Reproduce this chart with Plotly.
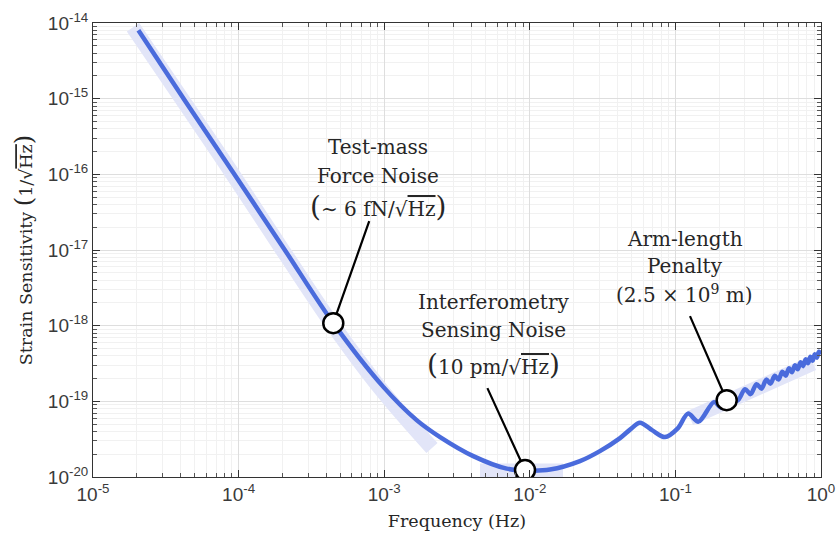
import math
import plotly.graph_objects as go

# ---- data ----
# main strain-sensitivity curve
curve_f = [2.05e-5, 4.352e-5, 9.45e-5, 2.05e-4, 4.47e-4, 9.86e-4, 1.67e-3, 2.42e-3,
           4.09e-3, 6.94e-3, 1.003e-2, 1.376e-2, 2.21e-2, 3.03e-2, 4.165e-2, 4.88e-2,
           5.71e-2, 6.91e-2, 8.48e-2, 0.1042, 0.1220, 0.1441, 0.1841, 0.2073, 0.2389,
           0.2670, 0.3006, 0.3280, 0.3606, 0.3904, 0.4210, 0.4497, 0.4816, 0.5106,
           0.5422, 0.5722, 0.6028, 0.6321, 0.6629, 0.6930, 0.7231, 0.7535, 0.7851,
           0.8141, 0.8456, 0.8756, 0.9066, 0.9371, 0.9674, 1.0]
curve_h = [8.01e-15, 8.96e-16, 9.73e-17, 1.04e-17, 1.079e-18, 1.553e-19, 5.65e-20, 3.37e-20,
           1.888e-20, 1.29e-20, 1.215e-20, 1.253e-20, 1.622e-20, 2.20e-20, 3.265e-20, 4.23e-20,
           5.23e-20, 4.16e-20, 3.37e-20, 4.43e-20, 6.88e-20, 5.39e-20, 9.76e-20, 8.26e-20, 1.172e-19,
           1.021e-19, 1.449e-19, 1.245e-19, 1.687e-19, 1.472e-19, 1.936e-19, 1.714e-19, 2.185e-19, 1.936e-19,
           2.468e-19, 2.185e-19, 2.746e-19, 2.43e-19, 3.007e-19, 2.661e-19, 3.296e-19, 2.917e-19, 3.61e-19,
           3.196e-19, 3.896e-19, 3.449e-19, 4.2e-19, 3.78e-19, 4.53e-19, 4.2e-19]

# shaded asymptote bands
force_band_f = [1.883e-5, 9.01e-5, 2.184e-4, 4.45e-4, 9.36e-4, 2.129e-3]
force_band_h = [8.77e-15, 1.034e-16, 7.79e-18, 1.015e-18, 1.494e-19, 2.41e-20]
sensing_band_f = [4.55e-3, 1.69e-2]
sensing_band_h = [1.2e-20, 1.2e-20]
arm_band_f = [0.126, 0.881]
arm_band_h = [6.0e-20, 3.2e-19]

# labelled points
marker_f = [4.47e-4, 9.27e-3, 0.225]
marker_h = [1.08e-18, 1.233e-20, 1.037e-19]
marker_labels = [
    ["Test-mass", "Force Noise",
     '<span style="font-size:28px">(</span>∼ 6 fN/√<span style="text-decoration:overline">Hz</span><span style="font-size:28px">)</span>'],
    ["Interferometry", "Sensing Noise",
     '<span style="font-size:28px">(</span>10 pm/√<span style="text-decoration:overline">Hz</span><span style="font-size:28px">)</span>'],
    ["Arm-length", "Penalty",
     '(2.5 × 10<sup>9</sup> m)'],
]

x_tickvals = [1e-5, 1e-4, 1e-3, 1e-2, 1e-1, 1e0]
x_ticktext = ["10<sup>-5</sup>", "10<sup>-4</sup>", "10<sup>-3</sup>", "10<sup>-2</sup>",
              "10<sup>-1</sup>", "10<sup>0</sup>"]
y_tickvals = [1e-20, 1e-19, 1e-18, 1e-17, 1e-16, 1e-15, 1e-14]
y_ticktext = ["10<sup>-20</sup>", "10<sup>-19</sup>", "10<sup>-18</sup>", "10<sup>-17</sup>",
              "10<sup>-16</sup>", "10<sup>-15</sup>", "10<sup>-14</sup>"]

# ---- styling ----
BAND = "#e2e5f8"
LINE = "#4a6bdc"
SERIF = "DejaVu Serif"
SANS = "Liberation Sans"
TXT = "#262626"

fig = go.Figure()
for bf, bh, shape in [(force_band_f, force_band_h, "spline"),
                      (sensing_band_f, sensing_band_h, "linear"),
                      (arm_band_f, arm_band_h, "linear")]:
    fig.add_trace(go.Scatter(x=bf, y=bh, mode="lines",
                             line=dict(color=BAND, width=15, shape=shape),
                             hoverinfo="skip", showlegend=False))

fig.add_trace(go.Scatter(x=curve_f, y=curve_h, mode="lines",
                         line=dict(color=LINE, width=4.5, shape="spline", smoothing=0.9),
                         showlegend=False))

fig.add_trace(go.Scatter(x=marker_f, y=marker_h, mode="markers",
                         marker=dict(size=20, color="white",
                                     line=dict(color="black", width=2.5)),
                         showlegend=False))

# leader lines (pixel offsets from the points) and text offsets
leaders = [(37, -105), (-39, -85), (-38, -87)]
text_dx = [45, -32, -42]
text_dy = [[176, 147, 117], [168, 140, 106], [161, 134, 106]]

annotations = []
for i in range(3):
    lx = math.log10(marker_f[i])
    ly = math.log10(marker_h[i])
    annotations.append(dict(x=lx, y=ly, xref="x", yref="y", text=" ",
                            showarrow=True, arrowhead=0, arrowwidth=2.2,
                            arrowcolor="black", ax=leaders[i][0], ay=leaders[i][1],
                            standoff=10, font=dict(size=2)))
    for j, t in enumerate(marker_labels[i]):
        annotations.append(dict(x=lx, y=ly, xref="x", yref="y", text=t,
                                showarrow=False, xshift=text_dx[i], yshift=text_dy[i][j],
                                xanchor="center", yanchor="middle",
                                font=dict(family=SERIF, size=20, color=TXT)))

axis_common = dict(
    type="log", showline=True, linecolor="#333333", linewidth=1, mirror="allticks",
    ticks="inside", ticklen=7, tickcolor="#333333", tickwidth=1, automargin=False,
    showgrid=True, gridcolor="#dedede", gridwidth=1, zeroline=False,
    tickfont=dict(family=SANS, size=19, color="#3a3a3a"),
    minor=dict(ticks="inside", ticklen=4, tickcolor="#555555", dtick="D1",
               showgrid=True, gridcolor="#f1f1f1", gridwidth=1),
)

fig.update_layout(
    width=836, height=533,
    margin=dict(l=93, r=15, t=23, b=56),
    paper_bgcolor="white", plot_bgcolor="white",
    xaxis=dict(range=[-5, 0], tickmode="array", tickvals=x_tickvals, ticktext=x_ticktext,
               title=dict(text="Frequency (Hz)", font=dict(family=SERIF, size=17.5, color=TXT),
                          standoff=10),
               **axis_common),
    yaxis=dict(range=[-20, -14], tickmode="array", tickvals=y_tickvals, ticktext=y_ticktext,
               title=dict(text='Strain Sensitivity <span style="font-size:24px">(</span>1/√<span style="text-decoration:overline">Hz</span><span style="font-size:24px">)</span>',
                          font=dict(family=SERIF, size=17.5, color=TXT), standoff=10),
               **axis_common),
    annotations=annotations,
    showlegend=False,
)

fig.write_html("out.html")
